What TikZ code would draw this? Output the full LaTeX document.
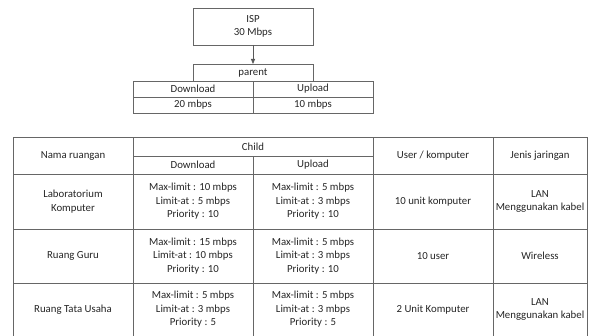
\documentclass[tikz,border=0pt]{standalone}
\usepackage{fontspec}
\setmainfont{Carlito}
\usetikzlibrary{arrows.meta}
\tikzset{
  cell/.style={draw=black!60, line width=0.9pt, inner sep=0pt, outer sep=0pt,
    align=center, font=\fontsize{10.8}{13.5}\selectfont, text=black!85},
  link/.style={draw=black!65, line width=0.8pt, -{Triangle[length=5pt,width=4pt]}}
}
\newcommand{\mycell}[6]{\node[cell, minimum width={(#4-#2)*1pt}, minimum height={(#5-#3)*1pt}]
  (#1) at ({(#2+#4)/2},{(#3+#5)/2}) {#6};}
\begin{document}
\begin{tikzpicture}[x=1pt,y=-1pt]
\useasboundingbox[fill=white] (0,0) rectangle (600,336);
% top part
\mycell{isp}{193}{8}{313}{45}{ISP\\30 Mbps}
\mycell{parent}{193}{64}{313}{81}{parent}
\mycell{pdl}{133}{81}{253}{97}{Download}
\mycell{pul}{253}{81}{373}{97}{Upload}
\mycell{pdv}{133}{97}{253}{113}{20 mbps}
\mycell{puv}{253}{97}{373}{113}{10 mbps}
\draw[link] (isp) -- (parent);
% table header
\mycell{hnama}{13}{137}{133}{174}{Nama ruangan}
\mycell{hchild}{133}{137}{373}{156}{Child}
\mycell{hdl}{133}{156}{253}{174}{Download}
\mycell{hul}{253}{156}{373}{174}{Upload}
\mycell{huser}{373}{137}{493}{174}{User / komputer}
\mycell{hjenis}{493}{137}{587}{174}{Jenis jaringan}
% row 1
\mycell{r1a}{13}{174}{133}{229}{Laboratorium\\Komputer}
\mycell{r1b}{133}{174}{253}{229}{Max-limit : 10 mbps\\Limit-at : 5 mbps\\Priority : 10}
\mycell{r1c}{253}{174}{373}{229}{Max-limit : 5 mbps\\Limit-at : 3 mbps\\Priority : 10}
\mycell{r1d}{373}{174}{493}{229}{10 unit komputer}
\mycell{r1e}{493}{174}{587}{229}{LAN\\Menggunakan kabel}
% row 2
\mycell{r2a}{13}{229}{133}{283}{Ruang Guru}
\mycell{r2b}{133}{229}{253}{283}{Max-limit : 15 mbps\\Limit-at : 10 mbps\\Priority : 10}
\mycell{r2c}{253}{229}{373}{283}{Max-limit : 5 mbps\\Limit-at : 3 mbps\\Priority : 10}
\mycell{r2d}{373}{229}{493}{283}{10 user}
\mycell{r2e}{493}{229}{587}{283}{Wireless}
% row 3
\mycell{r3a}{13}{283}{133}{336}{Ruang Tata Usaha}
\mycell{r3b}{133}{283}{253}{336}{Max-limit : 5 mbps\\Limit-at : 3 mbps\\Priority : 5}
\mycell{r3c}{253}{283}{373}{336}{Max-limit : 5 mbps\\Limit-at : 3 mbps\\Priority : 5}
\mycell{r3d}{373}{283}{493}{336}{2 Unit Komputer}
\mycell{r3e}{493}{283}{587}{336}{LAN\\Menggunakan kabel}
\end{tikzpicture}
\end{document}
